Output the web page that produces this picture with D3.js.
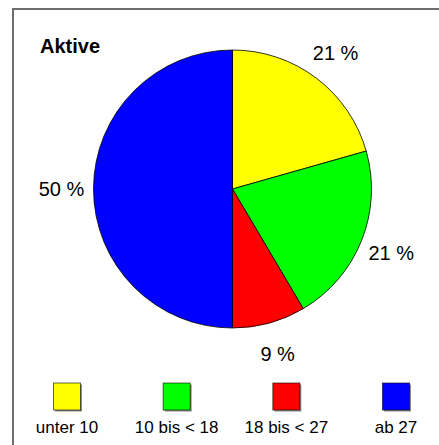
<!DOCTYPE html>
<html>
<head>
<meta charset="utf-8">
<script src="https://cdn.jsdelivr.net/npm/d3@7"></script>
<style>
  body { margin: 0; background: #fff; }
  text { font-family: "Liberation Sans", Arial, sans-serif; fill: #000; }
</style>
</head>
<body>
<div id="chart"></div>
<script>
/* Age groups of the active members, as a pie with a legend below. */
let categories = ["unter 10", "10 bis < 18", "18 bis < 27", "ab 27"];
let shares = [20.6, 20.9, 8.5, 50.0];
let shareLabels = ["21 %", "21 %", "9 %", "50 %"];
let colors = ["#ffff00", "#00ff00", "#ff0000", "#0000ff"];
let title = "Aktive";

let width = 439, height = 445;
let center = {x: 232.5, y: 189};
let radius = 139;

let svg = d3.select("#chart").append("svg")
    .attr("width", width)
    .attr("height", height);

/* Frame, running off the right and bottom edge of the picture. */
svg.append("rect")
    .attr("x", 13).attr("y", 9)
    .attr("width", 450).attr("height", 460)
    .attr("fill", "none")
    .attr("stroke", "#6e6e6e")
    .attr("stroke-width", 2);

svg.append("text")
    .attr("x", 40).attr("y", 53)
    .style("font-size", "20px")
    .style("font-weight", "bold")
    .text(title);

/* Pie, starting at twelve o'clock and going clockwise. */
let pie = d3.pie().sort(null).value(d => d);
let arcs = pie(shares);
let arc = d3.arc().innerRadius(0).outerRadius(radius);
let labelArc = d3.arc().innerRadius(171).outerRadius(171);

let g = svg.append("g")
    .attr("transform", "translate(" + center.x + "," + center.y + ")");

g.selectAll("path.slice")
    .data(arcs)
    .enter()
    .append("path")
        .attr("class", "slice")
        .attr("d", arc)
        .attr("fill", (d, i) => colors[i])
        .attr("stroke", "#000")
        .attr("stroke-width", 0.8);

g.selectAll("text.share")
    .data(arcs)
    .enter()
    .append("text")
        .attr("class", "share")
        .attr("transform", d => "translate(" + labelArc.centroid(d) + ")")
        .attr("text-anchor", "middle")
        .attr("dy", "0.36em")
        .style("font-size", "20px")
        .text((d, i) => shareLabels[i]);

/* Legend: one box per category, label centered under it. */
let legendX = d3.scalePoint()
    .domain(categories)
    .range([67, 396]);
let box = 27;

let legend = svg.selectAll("g.legend")
    .data(categories)
    .enter()
    .append("g")
        .attr("class", "legend")
        .attr("transform", d => "translate(" + legendX(d) + ",383)");

legend.append("rect")
    .attr("x", -box / 2 + 1.5).attr("y", 1.5)
    .attr("width", box).attr("height", box)
    .attr("fill", "#8a8a8a");
legend.append("rect")
    .attr("x", -box / 2).attr("y", 0)
    .attr("width", box).attr("height", box)
    .attr("fill", (d, i) => colors[i])
    .attr("stroke", "#000")
    .attr("stroke-opacity", 0.6)
    .attr("stroke-width", 1);

legend.append("text")
    .attr("x", 0).attr("y", 50)
    .attr("text-anchor", "middle")
    .style("font-size", "17px")
    .text(d => d);
</script>
</body>
</html>
